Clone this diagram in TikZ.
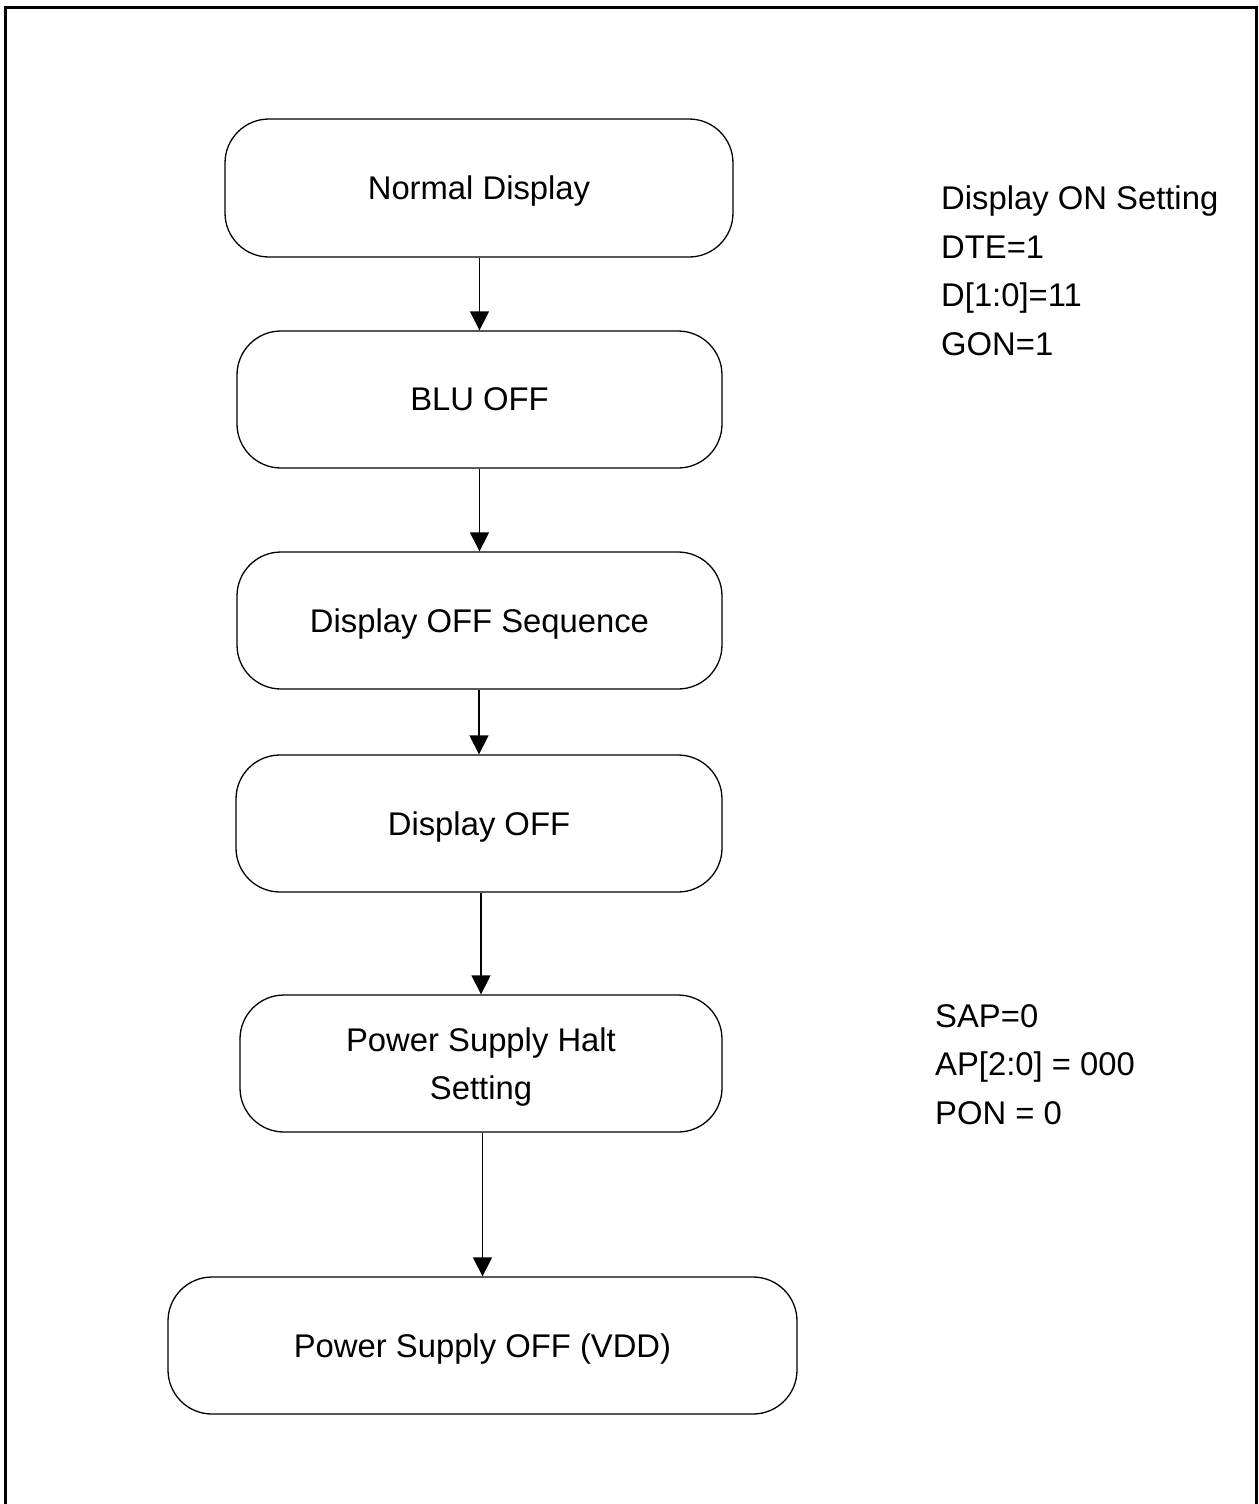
\documentclass[tikz,border=0pt]{standalone}
\usepackage{fontspec}
\setmainfont{Liberation Sans}
\usetikzlibrary{arrows.meta}
\begin{document}
\begin{tikzpicture}[x=1pt,y=-1pt,
  box/.style={draw, line width=1.3pt, rounded corners=44pt, align=center,
    font=\fontsize{32.8}{48}\selectfont, inner sep=0pt, text depth=0pt},
  arr/.style={line width=1.3pt, -{Triangle[length=19pt,width=19pt]}},
  note/.style={anchor=north west, align=left, inner sep=0pt,
    font=\fontsize{32.8}{48.5}\selectfont}]
\useasboundingbox (0,0) rectangle (1258,1504);
\draw[line width=3pt] (5,1504) -- (5,8) -- (1256,8) -- (1256,1504);
\node[box, minimum width=508pt, minimum height=138pt] (n1) at (479,188) {Normal Display};
\node[box, minimum width=485pt, minimum height=137pt] (n2) at (479.5,399.5) {BLU OFF};
\node[box, minimum width=485pt, minimum height=137pt] (n3) at (479.5,620.5) {Display OFF Sequence};
\node[box, minimum width=486pt, minimum height=137pt] (n4) at (479,823.5) {Display OFF};
\node[box, minimum width=482pt, minimum height=137pt] (n5) at (481,1063.5) {Power Supply Halt\\Setting};
\node[box, minimum width=629pt, minimum height=137pt] (n6) at (482.5,1345.5) {Power Supply OFF (VDD)};
\draw[arr] (n2.north |- n1.south) -- (n2.north);
\draw[arr] (n3.north |- n2.south) -- (n3.north);
\draw[arr] (n4.north |- n3.south) -- (n4.north);
\draw[arr] (n5.north |- n4.south) -- (n5.north);
\draw[arr] (n6.north |- n5.south) -- (n6.north);
\node[note] (t1) at (941,186) {Display ON Setting\\DTE=1\\D[1:0]=11\\GON=1};
\node[note] (t2) at (935,1004) {SAP=0\\AP[2:0] = 000\\PON = 0};
\end{tikzpicture}
\end{document}
